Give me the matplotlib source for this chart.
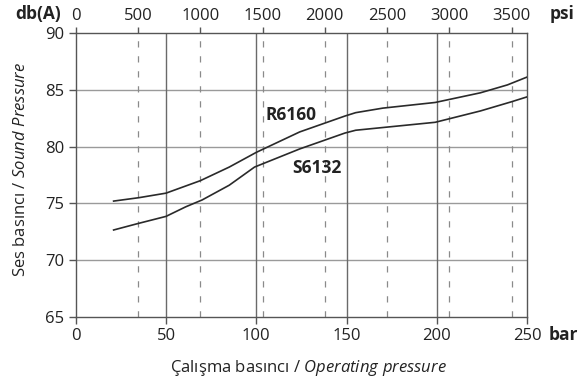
import matplotlib
matplotlib.use("Agg")
import matplotlib.pyplot as plt
import numpy as np

plt.rcParams['font.family'] = ['Open Sans', 'DejaVu Sans']
plt.rcParams['mathtext.fontset'] = 'custom'
plt.rcParams['mathtext.rm'] = 'Open Sans'
plt.rcParams['mathtext.it'] = 'Open Sans:italic'

# Data
r6160_bar = [21, 35, 50, 69, 85, 100, 124, 149, 155, 170, 199, 224, 239, 250]
r6160_db = [75.2, 75.5, 75.9, 77.0, 78.2, 79.5, 81.3, 82.7, 83.0, 83.4, 83.9, 84.75, 85.45, 86.15]
s6132_bar = [21, 34, 50, 61, 70, 85, 99, 124, 149, 155, 199, 224, 241, 250]
s6132_db = [72.65, 73.2, 73.85, 74.7, 75.3, 76.6, 78.2, 79.8, 81.2, 81.45, 82.15, 83.15, 83.95, 84.4]

bar_ticks = [0, 50, 100, 150, 200, 250]
psi_ticks = [0, 500, 1000, 1500, 2000, 2500, 3000, 3500]
db_ticks = [65, 70, 75, 80, 85, 90]
PSI_PER_BAR = 14.5038

fig = plt.figure(figsize=(5.83, 3.86), dpi=100)
ax = fig.add_axes([0.1298, 0.1795, 0.9045 - 0.1298, 0.9137 - 0.1795])
ax.set_xlim(0, 250)
ax.set_ylim(65, 90)

# grid
for y in db_ticks[1:-1]:
    ax.axhline(y, color='#9a9a9a', lw=1.0, zorder=1)
for x in bar_ticks[1:-1]:
    ax.axvline(x, color='#6a6a6a', lw=1.0, zorder=1)
for p in psi_ticks[1:]:
    ax.axvline(p / PSI_PER_BAR, color='#8a8a8a', lw=0.9, ls=(0, (5, 7)), zorder=1)

ax.plot(r6160_bar, r6160_db, color='#2a2a2a', lw=1.2, zorder=3)
ax.plot(s6132_bar, s6132_db, color='#2a2a2a', lw=1.2, zorder=3)

ax.text(119.2, 82.75, 'R6160', fontsize=12.5, fontweight='bold', color='#222222',
        ha='center', va='center', zorder=4)
ax.text(133.6, 78.1, 'S6132', fontsize=12.5, fontweight='bold', color='#222222',
        ha='center', va='center', zorder=4)

for s in ax.spines.values():
    s.set_color('#555555')
    s.set_linewidth(1.0)

ax.set_xticks(bar_ticks)
ax.set_yticks(db_ticks)
ax.tick_params(axis='both', direction='out', length=4.8, width=1.0, color='#555555',
               labelsize=12, labelcolor='#222222', pad=3.5)

sec = ax.secondary_xaxis('top', functions=(lambda b: b * PSI_PER_BAR, lambda p: p / PSI_PER_BAR))
sec.set_xticks(psi_ticks)
sec.tick_params(direction='out', length=4.5, width=1.0, color='#555555',
                labelsize=12, labelcolor='#222222', pad=2.5)
sec.spines['top'].set_visible(False)

fig.text(15 / 583, 1 - 14 / 386, 'db(A)', fontsize=12.5, fontweight='bold', color='#222222',
         ha='left', va='center')
fig.text(562 / 583, 1 - 14 / 386, 'psi', fontsize=12.5, fontweight='bold', color='#222222',
         ha='center', va='center')
fig.text(563 / 583, 1 - 335 / 386, 'bar', fontsize=12.5, fontweight='bold', color='#222222',
         ha='center', va='center')

fig.text(308 / 583, 1 - 368 / 386, r'Çalışma basıncı / $\mathit{Operating\ pressure}$',
         fontsize=12, color='#222222', ha='center', va='center')
fig.text(21 / 583, 1 - 169 / 386, r'Ses basıncı / $\mathit{Sound\ Pressure}$',
         fontsize=12, color='#222222', ha='center', va='center', rotation=90)

fig.savefig('out.png', dpi=100)
